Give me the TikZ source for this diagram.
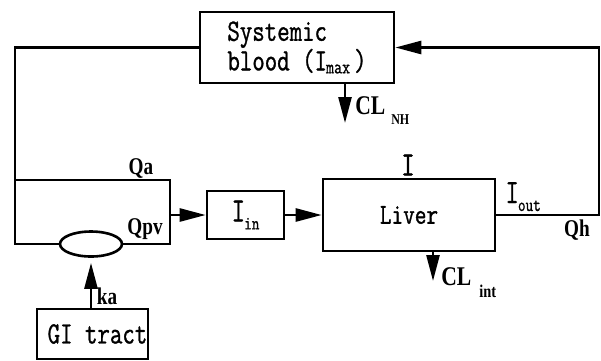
\documentclass[tikz,border=0pt]{standalone}
\usepackage{fontspec}
\usetikzlibrary{arrows.meta,shapes.geometric}
\newfontfamily\boxf[FakeStretch=0.78,FakeBold=1]{Latin Modern Mono}
\newfontfamily\labf[FakeStretch=0.8]{Liberation Serif}
\newcommand\fsz[1]{\fontsize{#1}{#1}\selectfont}
\begin{document}
\begin{tikzpicture}[x=1pt,y=-1pt,line width=2.6pt,
  blk/.style={draw, rectangle, inner sep=0pt, font=\boxf\fsz{31}},
  lab/.style={inner sep=0pt, font=\labf\bfseries\fsz{24}},
  cl/.style={inner sep=0pt, anchor=base west, font=\labf\bfseries\fsz{27}},
  ilab/.style={inner sep=0pt, font=\boxf\fsz{34}},
  arr/.style={-{Triangle[length=26pt,width=13pt]}},
]
\useasboundingbox (0,0) rectangle (601,360);

% boxes
\node[blk, minimum width=194pt, minimum height=71pt, align=left,
      font=\boxf\fontsize{31}{28}\selectfont] (sys) at (297,47.5)
  {Systemic\\blood (I\kern-1pt\raisebox{-3pt}{\fsz{20}max}\kern4pt)};
\node[blk, minimum width=77pt, minimum height=48pt, font=\boxf\fsz{34}] (iin) at (245.5,215)
  {I\kern-1pt\raisebox{-8pt}{\fsz{19}in}};
\node[blk, minimum width=172pt, minimum height=72pt, font=\boxf\fsz{29}] (liver) at (409,215) {Liver};
\node[blk, minimum width=111pt, minimum height=50pt] (gi) at (92.5,334) {\hspace*{10pt}GI tract};
\node[draw, ellipse, minimum width=62pt, minimum height=25pt, inner sep=0pt] (pv) at (91,244) {};

% helper points
\coordinate (bl) at (15,244);
\coordinate (qa) at (15,180);
\coordinate (rc) at (170,244);
\coordinate (rr) at (170,215);
\coordinate (rt) at (599,47.5);
\coordinate (nh) at (345,123);
\coordinate (ci) at (433,281);

% loops
\draw (sys.west) -| (bl) -- (pv.west);
\draw (qa) -| (rc) -- (pv.east);
\draw[arr] (rr) -- (iin.west);
\draw[arr] (iin.east) -- (liver.west);
\draw[arr] (liver.east) -| (rt) -- (sys.east);
\draw[arr] (sys.south -| nh) -- (nh);
\draw[arr] (liver.south -| ci) -- (ci);
\draw[arr, shorten >=5pt] (gi.north -| pv.south) -- (pv.south);

% labels
\node[lab] (qal) at (141,168) {Qa};
\node[lab] (qpv) at (145,229) {Qpv};
\node[lab] (kal) at (107,296) {ka};
\node[lab] (qhl) at (577,230) {Qh};
\node[ilab] (il) at (408,165) {I};
\node[ilab, anchor=base west] (iout) at (504,203) {I\kern-1pt\raisebox{-8pt}{\fsz{19}out}};
\node[cl] (clnh) at (354,114) {CL\kern6pt\raisebox{-10pt}{\fsz{15}NH}};
\node[cl] (clint) at (440,285) {CL\kern8pt\raisebox{-12pt}{\fsz{18}int}};
\end{tikzpicture}
\end{document}
